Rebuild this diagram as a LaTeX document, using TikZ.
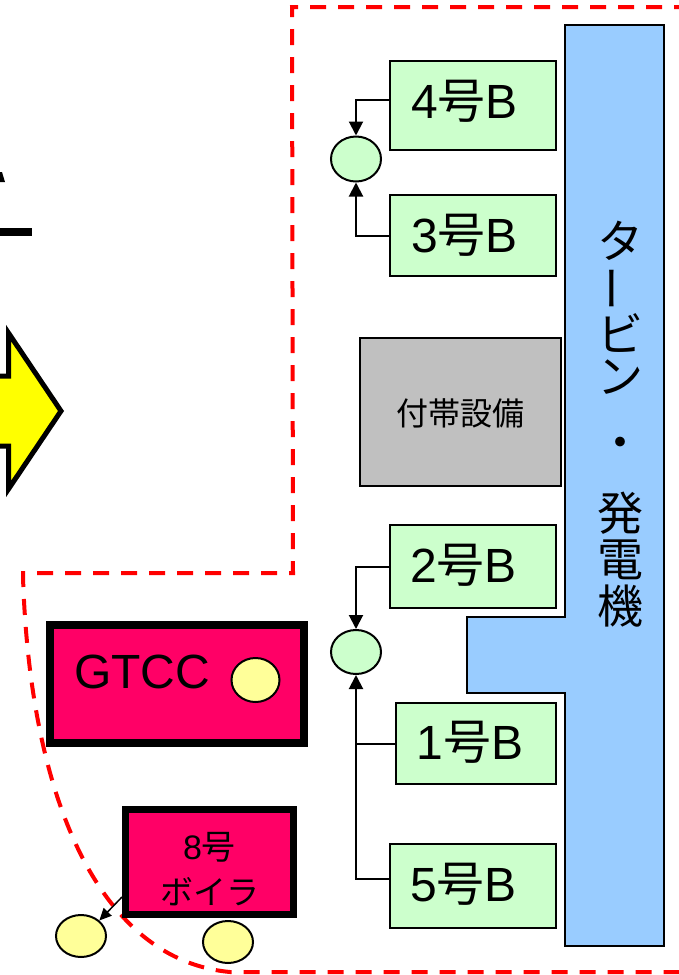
\documentclass[tikz,border=0pt]{standalone}
\usepackage{fontspec}
\usepackage{graphicx}
\setmainfont{Liberation Sans}
\newfontfamily\cjk{Noto Sans CJK JP}
\usetikzlibrary{arrows.meta,shapes.geometric}
\definecolor{boxgreen}{HTML}{CCFFCC}
\definecolor{turbblue}{HTML}{99CCFF}
\definecolor{auxgray}{HTML}{C0C0C0}
\definecolor{gtmag}{HTML}{FF0066}
\definecolor{paleyel}{HTML}{FFFF99}
\definecolor{arryel}{HTML}{FFFF00}
\newcommand\jtext[1]{{\cjk #1}}
\newcommand\fsz[1]{\fontsize{#1pt}{#1pt}\selectfont}
\begin{document}
\begin{tikzpicture}[x=1pt,y=-1pt,
  bbox/.style={draw=black, line width=2pt, fill=boxgreen, rectangle, inner sep=0pt, anchor=north west},
  auxbox/.style={draw=black, line width=2pt, fill=auxgray, rectangle, inner sep=0pt, anchor=north west},
  magbox/.style={draw=black, fill=gtmag, rectangle, inner sep=0pt, anchor=north west},
  gcirc/.style={draw=black, line width=2pt, fill=boxgreen, ellipse, inner sep=0pt},
  ycirc/.style={draw=black, line width=2pt, fill=paleyel, ellipse, inner sep=0pt},
  lbl/.style={inner sep=0pt, anchor=base, font=\fsz{48}},
  tchar/.style={inner sep=0pt, font=\cjk\fsz{46}},
  conn/.style={draw=black, line width=2pt},
  arr/.style={conn, -{Triangle[length=14pt,width=14pt]}},
  zone/.style={draw=red, line width=4pt, dash pattern=on 16pt off 12pt}
]
\path[use as bounding box] (0,0) rectangle (679,975);
\clip (0,0) rectangle (679,975);

% partial shapes at the left edge
\fill[black] (0,172) -- (2,172) -- (5,182) -- (0,182) -- cycle;
\fill[black] (0,228) rectangle (32,236);
\draw[fill=arryel, line width=5pt, miter limit=10] (-20,376) -- (8.5,376) -- (8.5,333) -- (61,411) -- (8.5,489) -- (8.5,446) -- (-20,446) -- cycle;

% red dashed zone
\draw[zone] (690,7) -- (292,7) -- (293,573) -- (23,573) -- (23,577)
  .. controls (30,800) and (100,960) .. (230,972) -- (690,972);

% turbine / generator
\draw[fill=turbblue, line width=2pt] (565,25) -- (664,25) -- (664,946) -- (565,946) -- (565,693) -- (467,693) -- (467,617) -- (565,617) -- cycle;
\node[tchar] (tc1) at (620,241) {タ};
\node[tchar, rotate=90] (tc2) at (620,288) {ー};
\node[tchar] (tc3) at (620,333) {ビ};
\node[tchar] (tc4) at (620,377) {ン};
\node[tchar] (tc5) at (620,448) {・};
\node[tchar] (tc6) at (620,513) {発};
\node[tchar] (tc7) at (620,560) {電};
\node[tchar] (tc8) at (620,606) {機};

% boiler boxes
\node[bbox, minimum width=166pt, minimum height=89pt] (b4) at (389,60) {};
\node[bbox, minimum width=166pt, minimum height=81pt] (b3) at (389,194) {};
\node[bbox, minimum width=166pt, minimum height=83pt] (b2) at (389,524) {};
\node[bbox, minimum width=160pt, minimum height=81pt] (b1) at (395,702) {};
\node[bbox, minimum width=166pt, minimum height=84pt] (b5) at (389,843) {};
\node[lbl] (l4) at (464.5,118) {4\jtext{号}B};
\node[lbl] (l3) at (464.5,252) {3\jtext{号}B};
\node[lbl] (l2) at (463.5,582) {2\jtext{号}B};
\node[lbl] (l1) at (470,759) {1\jtext{号}B};
\node[lbl] (l5) at (463.5,901) {5\jtext{号}B};

% auxiliary equipment
\node[auxbox, minimum width=201pt, minimum height=148pt] (aux) at (359,337) {};
\node[inner sep=0pt, font=\cjk\fsz{32}] (auxl) at (460,413) {付帯設備};

% collection circles
\node[gcirc, minimum width=50pt, minimum height=45pt] (c1) at (356,159) {};
\node[gcirc, minimum width=50pt, minimum height=44pt] (c2) at (356,652) {};

% connectors
\draw[arr] ([yshift=6pt]b4.west) -| (c1.north);
\draw[arr] (b3.west) -| (c1.south);
\draw[arr] (b2.west) -| (c2.north);
\draw[arr] ([yshift=7pt]b5.west) -| (c2.south);
\draw[conn] (b1.west) -- (b1.west -| c2.south);

% GTCC
\node[magbox, line width=8pt, minimum width=254pt, minimum height=118pt] (gtcc) at (46,621) {};
\node[inner sep=0pt, anchor=base, font=\fsz{48}] (gtccl) at (142,688) {GTCC};
\node[ycirc, minimum width=48pt, minimum height=44pt] (y0) at (255.5,680) {};

% boiler No.8
\node[magbox, line width=7pt, minimum width=168pt, minimum height=105pt] (bo8) at (122,806) {};
\node[inner sep=0pt, font=\fsz{34}] (bo8a) at (209.5,847) {8\jtext{号}};
\node[inner sep=0pt, font=\cjk\fsz{33}] (bo8b) at (210,892) {ボイラ};
\node[ycirc, minimum width=50pt, minimum height=42pt] (y1) at (81,936) {};
\node[ycirc, minimum width=50pt, minimum height=42pt] (y2) at (228,942) {};
\draw[arr, line width=1.5pt, -{Triangle[length=12pt,width=11pt]}] ([yshift=21pt]bo8.south west) -- (y1.north east);
\end{tikzpicture}
\end{document}
